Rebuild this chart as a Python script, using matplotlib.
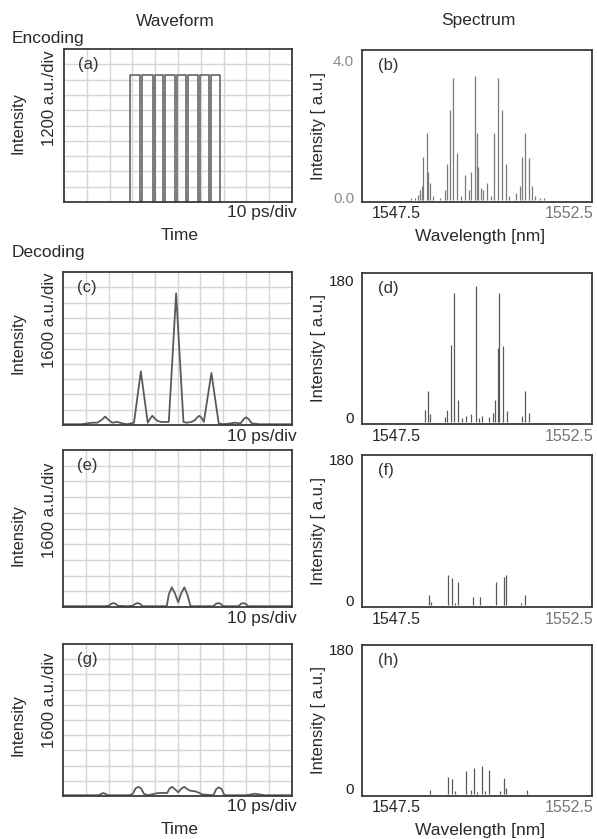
import matplotlib

matplotlib.use("Agg")
import matplotlib.pyplot as plt
import numpy as np

plt.rcParams["font.family"] = ["Liberation Sans", "DejaVu Sans"]

W, H = 597, 839
DPI = 100

# ---- waveform data (time in ps, intensity in divisions) ----
ENC_CHIP_EDGES = [28.9, 33.3, 39.0, 43.4, 48.7, 53.5, 58.8, 63.6, 68.4]
ENC_LEVEL = 8.3

DEC_C_T = [0, 8, 12.8, 15, 17, 18.4, 19.8, 21.5, 23.7, 26, 28, 31, 34, 37, 38, 39, 40.2, 41.5,
           43, 46.2, 49.4, 52.6, 54, 56, 57.5, 58.6, 59.6, 60.6, 61.5, 64.8, 68, 70, 73, 75,
           77.5, 79, 80, 81, 82.5, 86, 100]
DEC_C_Y = [0.05, 0.05, 0.15, 0.15, 0.35, 0.55, 0.35, 0.15, 0.2, 0.1, 0.05, 0.15, 3.5, 0.15,
           0.4, 0.6, 0.4, 0.25, 0.2, 0.2, 8.6, 0.2, 0.15, 0.2, 0.3, 0.5, 0.6, 0.45, 0.2, 3.4,
           0.1, 0.05, 0.1, 0.15, 0.1, 0.4, 0.5, 0.4, 0.1, 0.05, 0.05]

DEC_E_T = [0, 18, 20, 21, 22, 23, 24, 28, 30.5, 31.5, 32.6, 33.7, 34.7, 38, 45.3, 46.2, 47.5,
           48.8, 50.3, 51.7, 53, 54.3, 55.7, 60, 65.7, 66.8, 67.8, 68.9, 69.9, 76.6, 77.7,
           78.7, 79.8, 80.8, 100]
DEC_E_Y = [0.05, 0.05, 0.08, 0.2, 0.25, 0.2, 0.08, 0.05, 0.08, 0.2, 0.25, 0.2, 0.05, 0.05, 0.05,
           0.8, 1.25, 0.9, 0.3, 0.9, 1.25, 0.8, 0.05, 0.05, 0.05, 0.2, 0.25, 0.2, 0.05, 0.05,
           0.2, 0.25, 0.2, 0.05, 0.05]

DEC_G_T = [0, 10, 15.5, 17.6, 19.7, 29, 30.5, 31.7, 32.9, 34.1, 35.3, 37, 40, 42, 45.5, 46.6,
           47.7, 48.8, 50.3, 51.8, 53, 54.3, 55.5, 58, 61, 65.7, 66.9, 68.1, 69.3, 70.5, 80,
           84, 88, 100]
DEC_G_Y = [0.05, 0.05, 0.05, 0.2, 0.05, 0.05, 0.15, 0.5, 0.6, 0.5, 0.15, 0.05, 0.15, 0.2, 0.2,
           0.5, 0.6, 0.45, 0.25, 0.5, 0.6, 0.45, 0.35, 0.3, 0.1, 0.05, 0.45, 0.57, 0.45, 0.05,
           0.05, 0.15, 0.05, 0.05]

# ---- spectrum data (wavelength in nm, intensity) ----
SPEC_B_WL = [1548.57, 1548.65, 1548.72, 1548.77, 1548.80, 1548.83, 1548.91, 1548.94, 1548.98,
             1549.05, 1549.20, 1549.30, 1549.34, 1549.41, 1549.48, 1549.56, 1549.65, 1549.74,
             1549.82, 1549.88, 1549.96, 1549.99, 1550.03, 1550.08, 1550.14, 1550.21, 1550.30,
             1550.37, 1550.46, 1550.54, 1550.63, 1550.70, 1550.85, 1550.93, 1550.98, 1551.04,
             1551.12, 1551.19, 1551.25, 1551.38, 1551.45]
SPEC_B_I = [0.07, 0.05, 0.15, 0.3, 0.4, 1.25, 1.93, 0.8, 0.5, 0.1, 0.05, 0.3, 1.04, 2.6, 3.52,
            1.37, 0.1, 0.73, 0.3, 0.8, 3.6, 1.93, 0.95, 0.35, 0.3, 0.5, 0.1, 1.93, 3.52, 2.6,
            1.04, 0.1, 0.2, 0.4, 1.25, 1.93, 1.2, 0.4, 0.1, 0.07, 0.05]

SPEC_D_WL = [1548.87, 1548.94, 1548.98, 1549.30, 1549.34, 1549.43, 1549.51, 1549.59, 1549.68,
             1549.76, 1549.88, 1549.98, 1550.05, 1550.10, 1550.25, 1550.35, 1550.39, 1550.46,
             1550.48, 1550.57, 1550.65, 1550.98, 1551.04, 1551.12]
SPEC_D_I = [15, 40, 10, 6, 15, 99, 165, 28, 5, 8, 10, 174, 5, 8, 6, 12, 28, 95, 165, 98, 14,
            8, 40, 12]

SPEC_F_WL = [1548.96, 1549.01, 1549.38, 1549.45, 1549.52, 1549.59, 1549.92, 1550.07, 1550.41,
             1550.58, 1550.63, 1550.96, 1551.04]
SPEC_F_I = [12.6, 4, 37.8, 33.6, 3, 29, 10.5, 10.5, 29, 35.7, 37.8, 2.5, 12.6]

SPEC_H_WL = [1548.98, 1549.38, 1549.45, 1549.52, 1549.77, 1549.86, 1549.93, 1550.01, 1550.10,
             1550.17, 1550.26, 1550.49, 1550.58, 1550.63, 1551.08]
SPEC_H_I = [5, 22, 18.6, 4, 29.5, 5, 32.5, 3, 35.5, 4, 30.4, 4, 20, 8, 5]

LINE_C = "#5a5a5a"
SPINE_C = "#3a3a3a"
GRID_C = "#d6d6d6"


def rect(left, top, right, bottom):
    """Pixel box -> figure-fraction rect."""
    return [left / W, 1 - bottom / H, (right - left) / W, (bottom - top) / H]


def ftext(fig, x, y, s, **kw):
    fig.text(x / W, 1 - y / H, s, **kw)


def style_box(ax):
    for sp in ax.spines.values():
        sp.set_color(SPINE_C)
        sp.set_linewidth(1.3)
    ax.set_xticks([])
    ax.set_yticks([])


def wave_axes(fig, box, label):
    ax = fig.add_axes(rect(*box))
    ax.set_xlim(0, 100)
    ax.set_ylim(0, 10)
    for v in np.arange(10, 100, 10):
        ax.axvline(v, color=GRID_C, lw=1.0, zorder=0)
    for v in np.arange(1, 10):
        ax.axhline(v, color=GRID_C, lw=1.0, zorder=0)
    style_box(ax)
    ax.text(0.06, 0.9, label, transform=ax.transAxes, fontsize=12, color="#333",
            va="center", ha="left")
    return ax


def spec_axes(fig, box, label, ylim):
    ax = fig.add_axes(rect(*box))
    ax.set_xlim(1547.5, 1552.5)
    ax.set_ylim(*ylim)
    style_box(ax)
    ax.text(0.07, 0.9, label, transform=ax.transAxes, fontsize=12, color="#333",
            va="center", ha="left")
    return ax


fig = plt.figure(figsize=(W / DPI, H / DPI), dpi=DPI)
fig.patch.set_facecolor("white")

# ---- waveform column ----
ax_a = wave_axes(fig, (64, 49, 292, 202), "(a)")
xs, ys = [], []
gap = 0.9
for i in range(len(ENC_CHIP_EDGES) - 1):
    t0 = ENC_CHIP_EDGES[i] + (gap if i else 0)
    t1 = ENC_CHIP_EDGES[i + 1]
    xs += [t0, t0, t1, t1]
    ys += [0, ENC_LEVEL, ENC_LEVEL, 0]
ax_a.plot(xs, ys, color="#666", lw=1.2, clip_on=False)

ax_c = wave_axes(fig, (63, 272, 292, 425), "(c)")
ax_c.plot(DEC_C_T, DEC_C_Y, color=LINE_C, lw=1.3)
ax_e = wave_axes(fig, (63, 450, 292, 607), "(e)")
ax_e.plot(DEC_E_T, DEC_E_Y, color=LINE_C, lw=1.3)
ax_g = wave_axes(fig, (63, 644, 292, 796), "(g)")
ax_g.plot(DEC_G_T, DEC_G_Y, color=LINE_C, lw=1.3)

# ---- spectrum column ----
ax_b = spec_axes(fig, (362, 50, 592, 202), "(b)", (-0.06, 4.34))
ax_b.vlines(SPEC_B_WL, 0, SPEC_B_I, color="#7a7a7a", lw=0.9)
ax_d = spec_axes(fig, (362, 273, 592, 424), "(d)", (-2.5, 191))
ax_d.vlines(SPEC_D_WL, 0, SPEC_D_I, color=LINE_C, lw=0.9)
ax_f = spec_axes(fig, (362, 455, 592, 607), "(f)", (-2.5, 189))
ax_f.vlines(SPEC_F_WL, 0, SPEC_F_I, color=LINE_C, lw=0.9)
ax_h = spec_axes(fig, (362, 645, 592, 796), "(h)", (-2.5, 189))
ax_h.vlines(SPEC_H_WL, 0, SPEC_H_I, color=LINE_C, lw=0.9)

# ---- headings ----
TXT = dict(fontsize=12.5, color="#2a2a2a", va="center")
ftext(fig, 175, 21, "Waveform", ha="center", **TXT)
ftext(fig, 478, 21, "Spectrum", ha="center", **TXT)
ftext(fig, 12, 38, "Encoding", ha="left", **TXT)
ftext(fig, 12, 253, "Decoding", ha="left", **TXT)
ftext(fig, 180, 235, "Time", ha="center", **TXT)
ftext(fig, 180, 830, "Time", ha="center", **TXT)
ftext(fig, 480, 237, "Wavelength [nm]", ha="center", **TXT)
ftext(fig, 480, 830, "Wavelength [nm]", ha="center", **TXT)

# waveform axis labels
ROT = dict(fontsize=12, color="#2a2a2a", rotation=90, va="center", ha="center")
for (yc_int, yc_div, top_box, bottom_box, scale) in [
    (123, 98, 49, 202, "1200 a.u./div"),
    (343, 320, 272, 425, "1600 a.u./div"),
    (535, 510, 450, 607, "1600 a.u./div"),
    (725, 700, 644, 796, "1600 a.u./div"),
]:
    ftext(fig, 18, yc_int, "Intensity", **ROT)
    ftext(fig, 49, yc_div, scale, **ROT)
    ftext(fig, 297, bottom_box + 11, "10 ps/div", ha="right", fontsize=12.5,
          color="#2a2a2a", va="center")

# spectrum axis labels
for (top_box, bottom_box, ytop, ybot, lab_top, lab_bot, gray) in [
    (50, 202, 62, 199, "4.0", "0.0", True),
    (273, 424, 282, 419, "180", "0", False),
    (455, 607, 461, 602, "180", "0", False),
    (645, 796, 651, 790, "180", "0", False),
]:
    col = "#8a8a8a" if gray else "#1e1e1e"
    ftext(fig, 318, (top_box + bottom_box) / 2, "Intensity [ a.u.]", **ROT)
    ftext(fig, 354, ytop, lab_top, ha="right", fontsize=11, color=col, va="center")
    ftext(fig, 354, ybot, lab_bot, ha="right", fontsize=11, color=col, va="center")
    ftext(fig, 372, bottom_box + 12, "1547.5", ha="left", fontsize=11.5,
          color="#2a2a2a", va="center")
    ftext(fig, 593, bottom_box + 12, "1552.5", ha="right", fontsize=11.5,
          color="#777", va="center")

fig.savefig("out.png", dpi=DPI, facecolor="white")
